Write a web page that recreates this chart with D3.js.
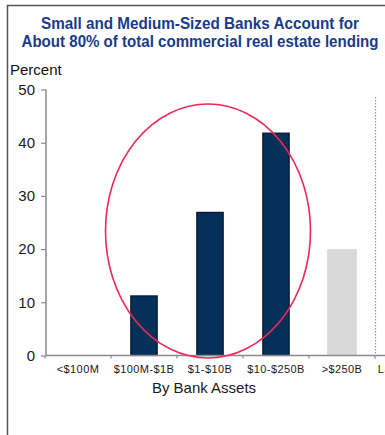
<!DOCTYPE html>
<html>
<head>
<meta charset="utf-8">
<script src="https://cdn.jsdelivr.net/npm/d3@7"></script>
<style>
  html, body { margin: 0; padding: 0; background: #fff; }
  svg { display: block; font-family: "Liberation Sans", Arial, sans-serif; }
</style>
</head>
<body>
<svg id="chart" width="385" height="435"></svg>
<script>
// Share of commercial real estate lending by bank asset size (percent)
const categories = ["<$100M", "$100M-$1B", "$1-$10B", "$10-$250B", ">$250B", "Large Bank"];
const shares = [0, 11.2, 26.9, 41.8, 20.0, null];
const highlighted = [true, true, true, true, false, false];
const yTicks = [0, 10, 20, 30, 40, 50];
const titleLines = ["Small and Medium-Sized Banks Account for",
                    "About 80% of total commercial real estate lending"];
const titleWidths = [318, 357];

const svg = d3.select("#chart");
const W = 385, H = 435;

// frame
svg.append("path")
  .attr("d", `M7.5,${H} V5.5 H${W}`)
  .attr("fill", "none").attr("stroke", "#555").attr("stroke-width", 1.5);

// title
svg.append("g").selectAll("text").data(titleLines).join("text")
  .attr("x", 200).attr("y", (d, i) => 29 + i * 18)
  .attr("text-anchor", "middle")
  .attr("font-size", 16).attr("font-weight", "bold")
  .attr("textLength", (d, i) => titleWidths[i])
  .attr("lengthAdjust", "spacingAndGlyphs")
  .attr("fill", "#1b3a8a")
  .text(d => d);

svg.append("text").attr("x", 10).attr("y", 75)
  .attr("font-size", 15).attr("fill", "#111").text("Percent");

const x = d3.scaleBand().domain(categories).range([45, 45 + 66 * categories.length]).padding(0);
const y = d3.scaleLinear().domain([0, 50]).range([355.5, 89.5]);

// y axis
const yAxis = svg.append("g").attr("transform", "translate(46,0)")
  .call(d3.axisLeft(y).tickValues(yTicks).tickSize(5).tickPadding(6).tickFormat(d3.format("d")));
yAxis.select(".domain").attr("stroke", "#8a8a8a").attr("stroke-width", 1.5).attr("d", `M0,${y(50)}V${y(0)}`);
yAxis.selectAll(".tick line").attr("stroke", "#8a8a8a").attr("stroke-width", 1.2);
yAxis.selectAll(".tick text").attr("font-size", 15).attr("fill", "#1a1a1a")
  .attr("font-family", "'Liberation Sans', Arial, sans-serif");

// bars
const navyW = x.bandwidth() * 0.4, greyW = x.bandwidth() * 0.45;
svg.append("g").selectAll("rect")
  .data(categories.map((c, i) => ({ c, v: shares[i], hi: highlighted[i] })).filter(d => d.v))
  .join("rect")
  .attr("x", d => x(d.c) + (x.bandwidth() - (d.hi ? navyW : greyW)) / 2)
  .attr("width", d => d.hi ? navyW : greyW)
  .attr("y", d => y(d.v))
  .attr("height", d => y(0) - y(d.v))
  .attr("fill", d => d.hi ? "#04305a" : "#d9d9d9")
  .attr("stroke", d => d.hi ? "#0b1730" : "none")
  .attr("stroke-width", 1.2);

// x axis
const xTicks = categories.map(c => x(c)).concat([x(categories[categories.length - 1]) + x.bandwidth()]);
const xg = svg.append("g");
xg.append("line").attr("x1", 46).attr("x2", W).attr("y1", y(0)).attr("y2", y(0))
  .attr("stroke", "#8a8a8a").attr("stroke-width", 1.5);
xg.selectAll(".xt").data(xTicks).join("line").attr("class", "xt")
  .attr("x1", d => d).attr("x2", d => d).attr("y1", y(0)).attr("y2", y(0) + 3)
  .attr("stroke", "#8a8a8a").attr("stroke-width", 1.2);
xg.selectAll(".xl").data(categories).join("text").attr("class", "xl")
  .attr("x", d => x(d) + x.bandwidth() / 2).attr("y", 373)
  .attr("text-anchor", "middle").attr("font-size", 11).attr("letter-spacing", 0.4)
  .attr("fill", "#1a1a1a")
  .text(d => d);

// separator before the last group
svg.append("line")
  .attr("x1", x(categories[5]) + 0.5).attr("x2", x(categories[5]) + 0.5)
  .attr("y1", 97).attr("y2", y(0) + 3)
  .attr("stroke", "#999").attr("stroke-width", 1.2).attr("stroke-dasharray", "1.5,1.5");

svg.append("text").attr("x", 204).attr("y", 393)
  .attr("text-anchor", "middle").attr("font-size", 15).attr("fill", "#1a1a1a")
  .text("By Bank Assets");

// highlight ring around the small and mid-sized groups
svg.append("ellipse")
  .attr("cx", 208).attr("cy", 231).attr("rx", 102.5).attr("ry", 127)
  .attr("fill", "none").attr("stroke", "#ec2a55").attr("stroke-width", 1.6);
</script>
</body>
</html>
